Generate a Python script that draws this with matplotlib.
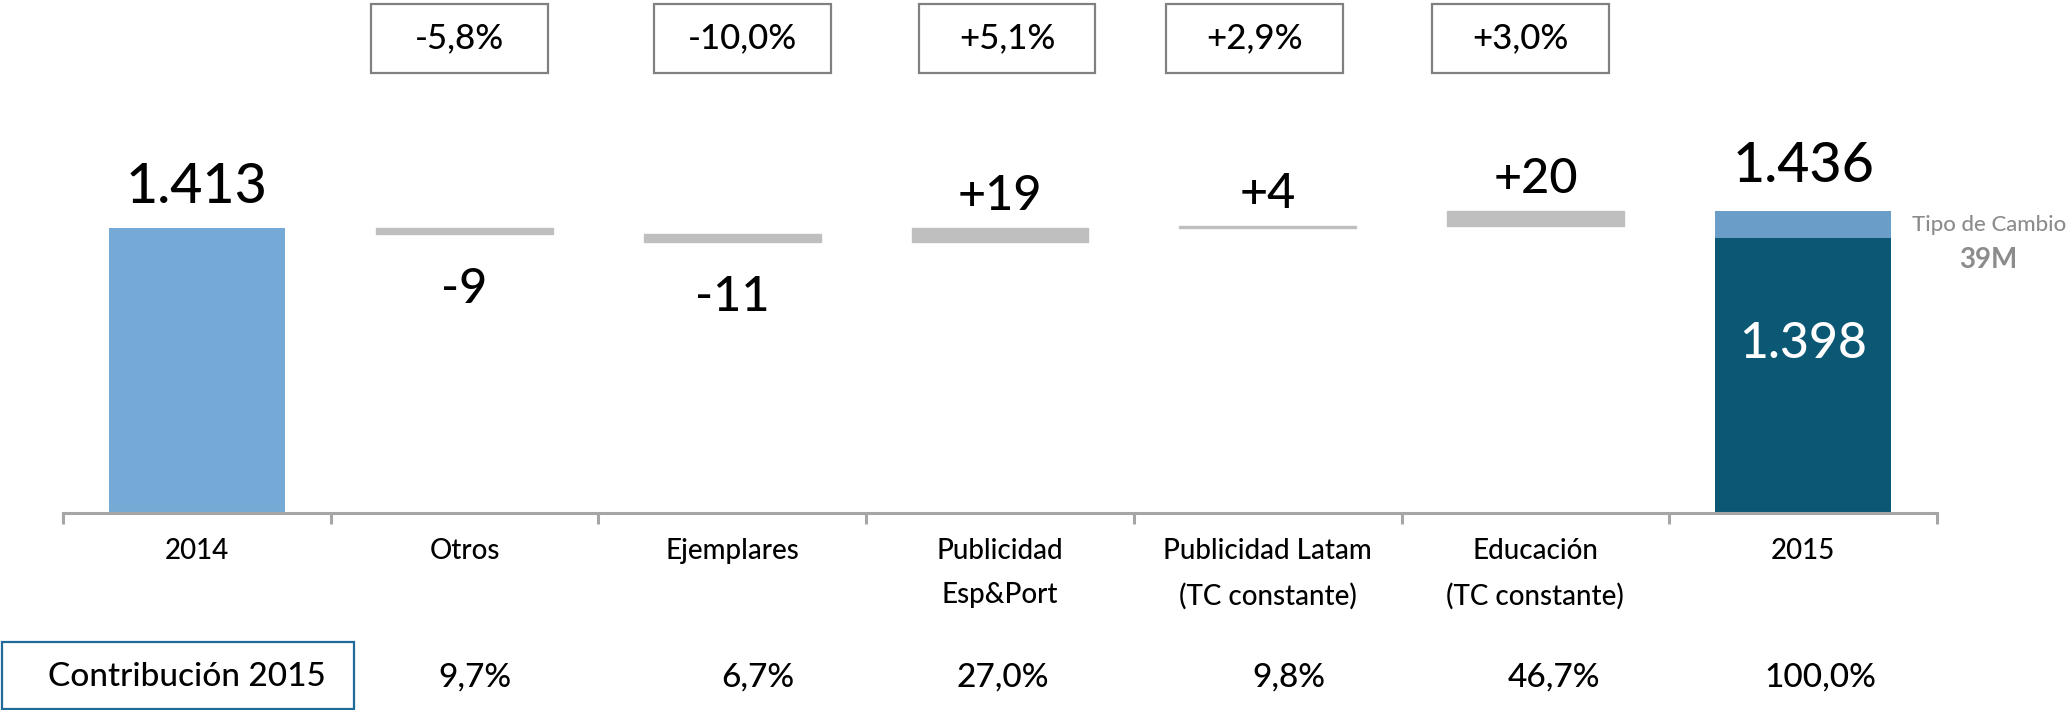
import matplotlib.pyplot as plt
from matplotlib.patches import Rectangle
from matplotlib.transforms import blended_transform_factory

plt.rcParams['font.family'] = ['Lato', 'DejaVu Sans']
plt.rcParams['font.weight'] = 'medium'

categories = ['2014', 'Otros', 'Ejemplares', 'Publicidad\nEsp&Port',
              'Publicidad Latam\n(TC constante)', 'Educación\n(TC constante)', '2015']
start_total = 1413
deltas = [-9, -11, 19, 4, 20]
end_total = 1436
end_constant_fx = 1398
fx_label = '39M'
pct_change = ['-5,8%', '-10,0%', '+5,1%', '+2,9%', '+3,0%']
contribution = ['9,7%', '6,7%', '27,0%', '9,8%', '46,7%', '100,0%']

# small horizontal nudges (in category units) seen in the original slide
box_shift = [-0.02, 0.037, 0.026, -0.05, -0.056]
contrib_shift = [0.04, 0.097, 0.01, 0.08, 0.07, 0.065]

c_start = '#75a9d6'
c_dark = '#0b5874'
c_fx = '#6a9ec8'
c_grey = '#bfbfbf'
axis_grey = '#a6a6a6'

W, H = 2071, 710
fig = plt.figure(figsize=(W / 100, H / 100), dpi=100)
ax = fig.add_axes([63 / W, 1 - 513 / H, (1937 - 63) / W, 513 / H])

ymin, ymax = 1014, 1731.5
bw = 0.66
x = list(range(len(categories)))

# start bar
ax.bar(0, start_total, width=bw, color=c_start)
ax.annotate(f'{start_total/1000:.3f}', (0, start_total), xytext=(0, 18),
            textcoords='offset points', ha='center', va='baseline', fontsize=40)

# floating bars
level = start_total
for i, d in enumerate(deltas, start=1):
    bottom = level if d > 0 else level + d
    ax.bar(i, abs(d), bottom=bottom, width=bw, color=c_grey, edgecolor=c_grey, linewidth=1.0)
    if d > 0:
        ax.annotate(f'+{d}', (i, level + d), xytext=(0, 13),
                    textcoords='offset points', ha='center', va='baseline', fontsize=35)
    else:
        ax.annotate(f'{d}', (i, level + d), xytext=(0, -24),
                    textcoords='offset points', ha='center', va='top', fontsize=35)
    level += d

# final bar, split by FX effect
ax.bar(6, end_constant_fx, width=bw, color=c_dark)
ax.bar(6, end_total - end_constant_fx, bottom=end_constant_fx, width=bw, color=c_fx)
ax.annotate(f'{end_total/1000:.3f}', (6, end_total), xytext=(0, 21),
            textcoords='offset points', ha='center', va='baseline', fontsize=40)
ax.annotate(f'{end_constant_fx/1000:.3f}', (6, end_constant_fx), xytext=(0, -86),
            textcoords='offset points', ha='center', va='baseline', fontsize=36, color='white')
fx_mid = (end_total + end_constant_fx) / 2
ax.annotate('Tipo de Cambio', (6 + bw / 2, fx_mid), xytext=(70, 0),
            textcoords='offset points', ha='center', va='center', fontsize=16, color='#8c8c8c',
            annotation_clip=False)
ax.annotate(fx_label, (6 + bw / 2, fx_mid), xytext=(70, -25),
            textcoords='offset points', ha='center', va='center', fontsize=20, color='#8c8c8c',
            fontweight='bold', annotation_clip=False)

ax.set_ylim(ymin, ymax)
ax.set_xlim(-0.5, len(categories) - 0.5)

# percent change boxes above
tr = blended_transform_factory(ax.transData, ax.transAxes)
for i, txt in enumerate(pct_change, start=1):
    cx = i + box_shift[i - 1]
    ax.add_patch(Rectangle((cx - bw / 2, 1 - 73 / 513), bw, 69 / 513, transform=tr,
                           facecolor='white', edgecolor='#808080', linewidth=1.6, clip_on=False))
    ax.text(cx, 1 - 38 / 513, txt, transform=tr, ha='center', va='center', fontsize=25)

# axis styling
for s in ['top', 'right', 'left']:
    ax.spines[s].set_visible(False)
ax.spines['bottom'].set_color(axis_grey)
ax.spines['bottom'].set_linewidth(2.2)
ax.set_yticks([])
ax.set_xticks(x)
ax.set_xticklabels(categories, fontsize=20, linespacing=1.85)
ax.tick_params(axis='x', which='major', length=0, pad=18)
ax.set_xticks([i - 0.5 for i in range(len(categories) + 1)], minor=True)
ax.tick_params(axis='x', which='minor', length=8, width=2.2, color=axis_grey, direction='out')

# contribution row
fig.patches.append(Rectangle((2 / W, 1 / H), 352 / W, 67 / H, transform=fig.transFigure,
                             facecolor='white', edgecolor='#1f6a99', linewidth=1.6))
fig.text(187 / W, 1 - 677 / H, 'Contribución 2015', ha='center', va='center', fontsize=24)
for i, txt in enumerate(contribution, start=1):
    ax.annotate(txt, (i + contrib_shift[i - 1], 1 - 677 / H), xycoords=('data', 'figure fraction'),
                ha='center', va='center', fontsize=24, annotation_clip=False)

fig.savefig('out.png', dpi=100)
